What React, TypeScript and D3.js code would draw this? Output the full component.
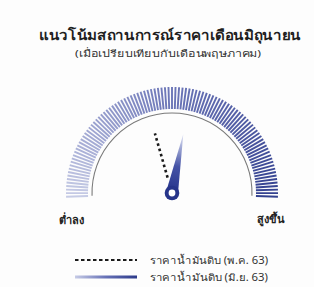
import React from "react";
import * as d3 from "d3";

const title = "แนวโน้มสถานการณ์ราคาเดือนมิถุนายน";
const subtitle = "(เมื่อเปรียบเทียบกับเดือนพฤษภาคม)";
const endLabels = ["ต่ำลง", "สูงขึ้น"];
const seriesNames = ["ราคาน้ำมันดิบ (พ.ค. 63)", "ราคาน้ำมันดิบ (มิ.ย. 63)"];
const seriesValues = [41.3, 55.9]; // position on 0..100 scale (low -> high)
const tickCount = 97;

const W = 314;
const H = 287;
const cx = 172;
const cy = 193;
const rOuter = 106;
const rInner = 84;
const rArc = 80;

export default function App() {
  const angle = d3.scaleLinear().domain([0, 100]).range([-92, 92]);
  const tickColor = d3
    .scaleLinear<string>()
    .domain([0, 50, 100])
    .range(["#c6cbe5", "#6b75b7", "#33418f"]);
  const ticks = d3.range(tickCount).map((i) => (i / (tickCount - 1)) * 100);

  const pt = (deg: number, r: number) => {
    const a = (deg * Math.PI) / 180;
    return [cx + r * Math.sin(a), cy - r * Math.cos(a)];
  };

  const arcPath = d3
    .arc()
    .innerRadius(rArc)
    .outerRadius(rArc)
    .startAngle((angle(0) * Math.PI) / 180)
    .endAngle((angle(100) * Math.PI) / 180);

  const needleDeg = angle(seriesValues[1]);
  const nLen = 60;
  const baseW = 6;
  const tip = pt(needleDeg, nLen);
  const bl = pt(needleDeg - 90, baseW);
  const br = pt(needleDeg + 90, baseW);
  const needlePath = `M${bl[0]},${bl[1]} L${tip[0]},${tip[1]} L${br[0]},${br[1]} Z`;
  const base = pt(needleDeg, 0);

  const dashDeg = angle(seriesValues[0]);
  const d0 = pt(dashDeg, 16);
  const d1 = pt(dashDeg, 62);

  const font = "'Noto Sans', 'DejaVu Sans', sans-serif";

  return (
    <svg
      width={W}
      height={H}
      style={{ position: "absolute", left: 0, top: 0, background: "#fdfdfd" }}
      fontFamily={font}
    >
      <defs>
        <linearGradient
          id="needleGrad"
          gradientUnits="userSpaceOnUse"
          x1={base[0]}
          y1={base[1]}
          x2={tip[0]}
          y2={tip[1]}
        >
          <stop offset="0" stopColor="#25338a" />
          <stop offset="0.45" stopColor="#4553a6" />
          <stop offset="1" stopColor="#e2e6f6" />
        </linearGradient>
        <linearGradient id="legGrad" x1="0" x2="1" y1="0" y2="0">
          <stop offset="0" stopColor="#c6cbe6" />
          <stop offset="0.5" stopColor="#6570b6" />
          <stop offset="1" stopColor="#2c3a8a" />
        </linearGradient>
      </defs>

      <text
        x={170}
        y={40}
        textAnchor="middle"
        fontSize={14}
        fontWeight="bold"
        fill="#1f1f1f"
        textLength={262}
        lengthAdjust="spacingAndGlyphs"
      >
        {title}
      </text>
      <text
        x={168}
        y={57}
        textAnchor="middle"
        fontSize={9.5}
        fill="#333"
        textLength={186}
        lengthAdjust="spacingAndGlyphs"
      >
        {subtitle}
      </text>

      <g>
        {ticks.map((v, i) => {
          const a = angle(v);
          const p0 = pt(a, rInner);
          const p1 = pt(a, rOuter);
          return (
            <line
              key={i}
              x1={p0[0]}
              y1={p0[1]}
              x2={p1[0]}
              y2={p1[1]}
              stroke={tickColor(v)}
              strokeWidth={1.9}
            />
          );
        })}
      </g>

      <path
        d={arcPath({} as any) || ""}
        transform={`translate(${cx},${cy})`}
        fill="none"
        stroke="#7a7a7a"
        strokeWidth={1.1}
      />

      <line
        x1={d0[0]}
        y1={d0[1]}
        x2={d1[0]}
        y2={d1[1]}
        stroke="#1a1a1a"
        strokeWidth={2.6}
        strokeDasharray="2.6 2.9"
      />

      <path d={needlePath} fill="url(#needleGrad)" />
      <circle cx={cx} cy={cy} r={7.3} fill="#27358a" />
      <circle cx={cx} cy={cy} r={3.4} fill="#fff" />

      <text x={71} y={224} textAnchor="middle" fontSize={11} fontWeight="bold" fill="#222">
        {endLabels[0]}
      </text>
      <text x={271} y={223} textAnchor="middle" fontSize={11} fontWeight="bold" fill="#222">
        {endLabels[1]}
      </text>

      <line
        x1={75}
        x2={137}
        y1={260}
        y2={260}
        stroke="#1a1a1a"
        strokeWidth={2}
        strokeDasharray="3.5 2.5"
      />
      <text x={150} y={263.5} fontSize={10} fill="#333" textLength={118} lengthAdjust="spacingAndGlyphs">
        {seriesNames[0]}
      </text>
      <rect x={75} y={275.5} width={62} height={3} fill="url(#legGrad)" />
      <text x={150} y={280.5} fontSize={10} fill="#333" textLength={118} lengthAdjust="spacingAndGlyphs">
        {seriesNames[1]}
      </text>
    </svg>
  );
}
